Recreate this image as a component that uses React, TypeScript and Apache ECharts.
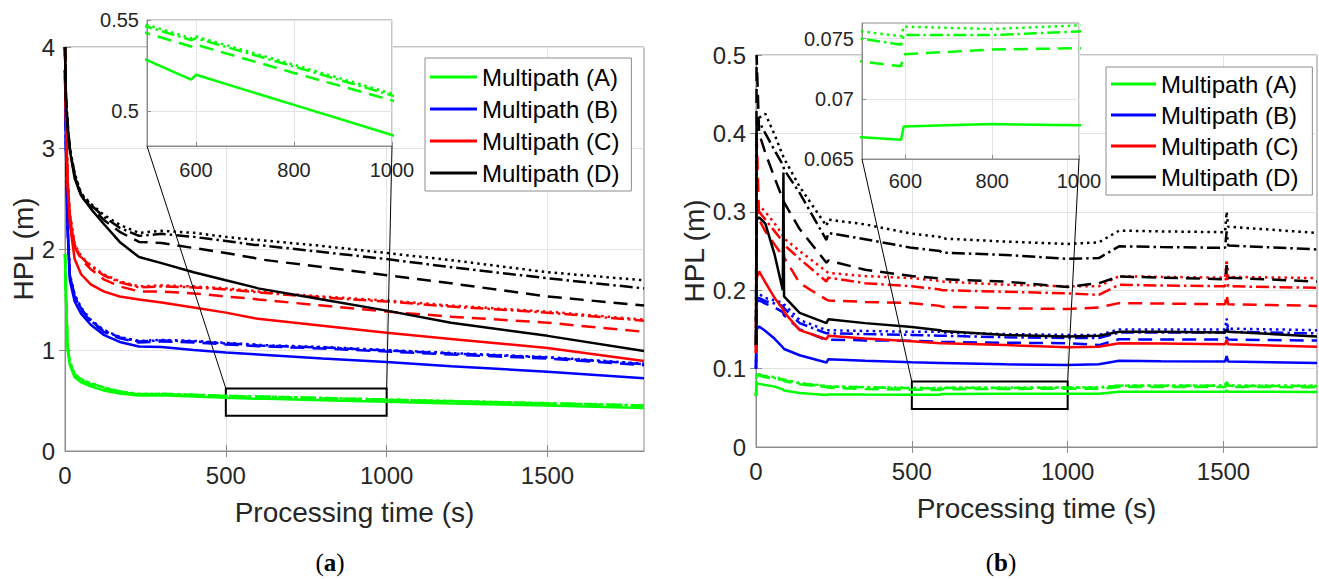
import React, { useEffect, useRef } from "react";
import * as echarts from "echarts";

// ---------------- Panel (a) data ----------------
const timeA = [0, 3, 8, 15, 30, 50, 80, 120, 170, 230, 300, 400, 500, 590, 600, 800, 1000, 1200, 1500, 1800];
const a_A_solid = [1.95, 1.5, 1.0, 0.85, 0.73, 0.68, 0.64, 0.6, 0.57, 0.55, 0.552, 0.54, 0.528, 0.5174, 0.52, 0.5035, 0.487, 0.47, 0.45, 0.425];
const a_A_dashed = [1.95, 1.55, 1.05, 0.88, 0.75, 0.7, 0.66, 0.62, 0.585, 0.56, 0.562, 0.553, 0.5427, 0.5355, 0.5365, 0.521, 0.506, 0.492, 0.47, 0.448];
const a_A_dotted = [1.95, 1.55, 1.05, 0.88, 0.76, 0.71, 0.67, 0.63, 0.59, 0.565, 0.567, 0.558, 0.5473, 0.54, 0.541, 0.5255, 0.5097, 0.495, 0.474, 0.452];
const a_A_dashdot = [1.95, 1.55, 1.05, 0.88, 0.76, 0.71, 0.67, 0.63, 0.59, 0.564, 0.566, 0.557, 0.5463, 0.539, 0.54, 0.5245, 0.5087, 0.494, 0.473, 0.451];

const a_B_solid = [3.77, 3.0, 2.2, 1.69, 1.48, 1.36, 1.25, 1.15, 1.08, 1.035, 1.03, 1.0, 0.975, 0.957, 0.955, 0.915, 0.88, 0.84, 0.785, 0.72];
const a_B_dashed = [3.77, 3.0, 2.22, 1.73, 1.53, 1.4, 1.28, 1.18, 1.115, 1.075, 1.085, 1.075, 1.055, 1.04, 1.037, 1.015, 0.985, 0.955, 0.915, 0.85];
const a_B_dotted = [3.77, 3.05, 2.25, 1.75, 1.55, 1.42, 1.3, 1.2, 1.13, 1.09, 1.1, 1.09, 1.07, 1.055, 1.05, 1.03, 1.0, 0.97, 0.93, 0.865];
const a_B_dashdot = [3.77, 3.03, 2.24, 1.74, 1.54, 1.41, 1.29, 1.19, 1.125, 1.085, 1.095, 1.085, 1.065, 1.05, 1.045, 1.025, 0.995, 0.965, 0.925, 0.86];

const a_C_solid = [4.0, 3.3, 2.6, 2.25, 1.9, 1.75, 1.65, 1.58, 1.53, 1.5, 1.47, 1.42, 1.37, 1.315, 1.31, 1.24, 1.17, 1.11, 1.02, 0.89];
const a_C_dashed = [4.0, 3.35, 2.68, 2.32, 2.02, 1.9, 1.8, 1.7, 1.63, 1.58, 1.58, 1.56, 1.53, 1.505, 1.5, 1.44, 1.38, 1.33, 1.27, 1.18];
const a_C_dotted = [4.0, 3.35, 2.7, 2.35, 2.05, 1.93, 1.84, 1.75, 1.68, 1.63, 1.64, 1.63, 1.61, 1.585, 1.58, 1.53, 1.49, 1.44, 1.38, 1.3];
const a_C_dashdot = [4.0, 3.35, 2.7, 2.34, 2.04, 1.92, 1.83, 1.74, 1.67, 1.62, 1.63, 1.62, 1.6, 1.575, 1.57, 1.52, 1.48, 1.43, 1.37, 1.29];

const a_D_solid = [4.0, 3.47, 3.2, 2.98, 2.7, 2.53, 2.4, 2.25, 2.07, 1.92, 1.86, 1.77, 1.69, 1.62, 1.61, 1.5, 1.39, 1.27, 1.14, 0.99];
const a_D_dashed = [4.0, 3.5, 3.24, 2.99, 2.72, 2.52, 2.42, 2.29, 2.17, 2.07, 2.06, 2.01, 1.96, 1.91, 1.9, 1.82, 1.74, 1.66, 1.53, 1.44];
const a_D_dotted = [4.0, 3.5, 3.25, 3.0, 2.75, 2.55, 2.45, 2.34, 2.24, 2.16, 2.18, 2.16, 2.12, 2.09, 2.09, 2.03, 1.96, 1.89, 1.77, 1.69];
const a_D_dashdot = [4.0, 3.5, 3.25, 3.0, 2.74, 2.54, 2.44, 2.32, 2.21, 2.13, 2.15, 2.12, 2.08, 2.04, 2.04, 1.97, 1.9, 1.82, 1.71, 1.61];

// ---------------- Panel (b) data ----------------
const timeB = [0, 2, 10, 30, 60, 86, 88, 90, 140, 226, 232, 350, 500, 590, 596, 800, 1000, 1100, 1165, 1300, 1505, 1510, 1515, 1800];
const b_A_solid = [0.065, 0.081, 0.0805, 0.079, 0.077, 0.0735, 0.0728, 0.072, 0.069, 0.0664, 0.067, 0.0669, 0.0668, 0.0666, 0.0677, 0.0679, 0.0678, 0.0678, 0.0705, 0.0705, 0.0705, 0.072, 0.0705, 0.0702];
const b_A_dashed = [0.065, 0.093, 0.091, 0.089, 0.087, 0.0857, 0.0856, 0.084, 0.08, 0.0765, 0.0755, 0.074, 0.0731, 0.0727, 0.0737, 0.0741, 0.0742, 0.0742, 0.0765, 0.0765, 0.0765, 0.08, 0.0765, 0.0763];
const b_A_dotted = [0.065, 0.095, 0.093, 0.091, 0.089, 0.087, 0.0868, 0.086, 0.082, 0.078, 0.0775, 0.0765, 0.0756, 0.0752, 0.076, 0.0758, 0.0761, 0.0762, 0.0785, 0.0785, 0.0785, 0.084, 0.0785, 0.0783];
const b_A_dashdot = [0.065, 0.094, 0.092, 0.09, 0.088, 0.0862, 0.086, 0.085, 0.081, 0.0775, 0.077, 0.076, 0.075, 0.0745, 0.0753, 0.0753, 0.0756, 0.0757, 0.078, 0.078, 0.078, 0.083, 0.078, 0.0778];

const b_B_solid = [0.1, 0.15, 0.1537, 0.148, 0.138, 0.127, 0.126, 0.125, 0.117, 0.1077, 0.112, 0.11, 0.108, 0.107, 0.107, 0.1055, 0.1047, 0.1055, 0.11, 0.1095, 0.109, 0.116, 0.109, 0.107];
const b_B_dashed = [0.1, 0.185, 0.187, 0.183, 0.178, 0.172, 0.17, 0.168, 0.15, 0.1366, 0.137, 0.136, 0.1354, 0.1345, 0.134, 0.133, 0.1324, 0.13, 0.1375, 0.137, 0.137, 0.14, 0.137, 0.1358];
const b_B_dotted = [0.1, 0.195, 0.195, 0.19, 0.187, 0.184, 0.1835, 0.182, 0.162, 0.149, 0.149, 0.148, 0.147, 0.147, 0.146, 0.144, 0.143, 0.143, 0.15, 0.15, 0.15, 0.164, 0.151, 0.149];
const b_B_dashdot = [0.1, 0.19, 0.19, 0.186, 0.183, 0.18, 0.179, 0.177, 0.158, 0.145, 0.145, 0.144, 0.143, 0.142, 0.142, 0.14, 0.139, 0.139, 0.146, 0.146, 0.146, 0.158, 0.147, 0.145];

const b_C_solid = [0.12, 0.215, 0.224, 0.21, 0.19, 0.176, 0.175, 0.172, 0.149, 0.1375, 0.1418, 0.1385, 0.135, 0.1324, 0.1322, 0.13, 0.1273, 0.128, 0.1324, 0.132, 0.131, 0.137, 0.131, 0.128];
const b_C_dashed = [0.12, 0.4, 0.29, 0.275, 0.258, 0.244, 0.265, 0.242, 0.209, 0.188, 0.187, 0.185, 0.1835, 0.18, 0.179, 0.177, 0.176, 0.178, 0.1835, 0.183, 0.182, 0.195, 0.182, 0.18];
const b_C_dotted = [0.12, 0.31, 0.308, 0.3, 0.285, 0.27, 0.268, 0.266, 0.25, 0.224, 0.222, 0.218, 0.2155, 0.212, 0.211, 0.207, 0.205, 0.205, 0.218, 0.217, 0.216, 0.239, 0.217, 0.2155];
const b_C_dashdot = [0.12, 0.3, 0.3, 0.29, 0.275, 0.262, 0.26, 0.258, 0.24, 0.211, 0.216, 0.209, 0.205, 0.201, 0.2, 0.198, 0.196, 0.194, 0.207, 0.206, 0.205, 0.225, 0.205, 0.203];

const b_D_solid = [0.13, 0.29, 0.293, 0.285, 0.245, 0.2, 0.35, 0.192, 0.171, 0.158, 0.163, 0.158, 0.153, 0.149, 0.148, 0.143, 0.141, 0.142, 0.147, 0.147, 0.146, 0.15, 0.147, 0.141];
const b_D_dashed = [0.13, 0.5, 0.4, 0.375, 0.343, 0.316, 0.314, 0.312, 0.278, 0.235, 0.238, 0.226, 0.218, 0.215, 0.214, 0.211, 0.204, 0.209, 0.2175, 0.216, 0.214, 0.232, 0.216, 0.211];
const b_D_dotted = [0.13, 0.4, 0.42, 0.425, 0.398, 0.372, 0.37, 0.368, 0.332, 0.282, 0.29, 0.284, 0.272, 0.268, 0.266, 0.262, 0.259, 0.261, 0.276, 0.275, 0.274, 0.3, 0.281, 0.273];
const b_D_dashdot = [0.13, 0.41, 0.415, 0.4, 0.378, 0.36, 0.358, 0.354, 0.324, 0.264, 0.273, 0.265, 0.254, 0.25, 0.248, 0.245, 0.24, 0.241, 0.256, 0.255, 0.254, 0.275, 0.257, 0.252];

// ---------------- axes / annotations ----------------
const legendNames = ["Multipath (A)", "Multipath (B)", "Multipath (C)", "Multipath (D)"];
const xTicksMain = [0, 500, 1000, 1500];
const xTicksTop = [500, 1000, 1500];
const yTicksA = [0, 1, 2, 3, 4];
const yTicksB = [0, 0.1, 0.2, 0.3, 0.4, 0.5];
const xTicksInset = [600, 800, 1000];
const yTicksInsetA = [0.5, 0.55];
const yTicksInsetB = [0.065, 0.07, 0.075];
const rangeMainX = [0, 1800];
const rangeMainYA = [0, 4];
const rangeMainYB = [0, 0.5];
const insetA = [500, 1000, 0.481, 0.55];
const insetB = [500, 1000, 0.065, 0.0763];
const zoomBoxA = [500, 1000, 0.35, 0.62];
const zoomBoxB = [500, 1000, 0.0485, 0.0834];

const FONT = '"Liberation Sans", Arial, Helvetica, sans-serif';
const SERIF = '"Liberation Serif", "Times New Roman", serif';
const TXT = "#262626";
const AX = "#8c8c8c";
const GRIDC = "#e3e3e3";
const COLOR: Record<string, string> = { A: "#00ff00", B: "#0000ff", C: "#ff0000", D: "#000000" };
const DASH: Record<string, any> = { solid: "solid", dashed: [14, 8], dotted: [2.5, 4], dashdot: [13, 4, 2.5, 4] };
const fmt = (v: number) => String(Number(v.toFixed(4)));

const tableA: [string, string, number[]][] = [
  ["A", "dashed", a_A_dashed], ["A", "dotted", a_A_dotted], ["A", "dashdot", a_A_dashdot], ["A", "solid", a_A_solid],
  ["B", "dashed", a_B_dashed], ["B", "dotted", a_B_dotted], ["B", "dashdot", a_B_dashdot], ["B", "solid", a_B_solid],
  ["C", "dashed", a_C_dashed], ["C", "dotted", a_C_dotted], ["C", "dashdot", a_C_dashdot], ["C", "solid", a_C_solid],
  ["D", "dashed", a_D_dashed], ["D", "dotted", a_D_dotted], ["D", "dashdot", a_D_dashdot], ["D", "solid", a_D_solid],
];
const tableB: [string, string, number[]][] = [
  ["A", "dashed", b_A_dashed], ["A", "dotted", b_A_dotted], ["A", "dashdot", b_A_dashdot], ["A", "solid", b_A_solid],
  ["B", "dashed", b_B_dashed], ["B", "dotted", b_B_dotted], ["B", "dashdot", b_B_dashdot], ["B", "solid", b_B_solid],
  ["C", "dashed", b_C_dashed], ["C", "dotted", b_C_dotted], ["C", "dashdot", b_C_dashdot], ["C", "solid", b_C_solid],
  ["D", "dashed", b_D_dashed], ["D", "dotted", b_D_dotted], ["D", "dashdot", b_D_dashdot], ["D", "solid", b_D_solid],
];

function mkLine(key: string, style: string, t: number[], v: number[], xi: number, yi: number, z: number, tag: string) {
  const color = COLOR[key];
  return {
    type: "line",
    name: style === "solid" && tag.indexOf("main") === 0 ? `Multipath (${key})` : `${key}-${style}-${tag}`,
    xAxisIndex: xi,
    yAxisIndex: yi,
    data: t.map((x, i) => [x, v[i]]),
    showSymbol: false,
    symbol: "none",
    silent: true,
    z,
    clip: true,
    lineStyle: { color, width: 2.5, type: DASH[style] },
    itemStyle: { color },
    emphasis: { disabled: true },
  };
}

function mainX(gridIndex: number) {
  return {
    gridIndex, type: "value", min: rangeMainX[0], max: rangeMainX[1], interval: 500,
    axisLine: { show: true, onZero: false, lineStyle: { color: AX } },
    axisTick: { show: true, inside: true, length: 6, customValues: xTicksMain, lineStyle: { color: AX } },
    axisLabel: { customValues: xTicksMain, formatter: fmt, color: TXT, fontSize: 24, fontFamily: FONT, margin: 12 },
    splitLine: { show: true, lineStyle: { color: GRIDC } },
    name: "Processing time (s)",
    nameLocation: "middle", nameGap: 47,
    nameTextStyle: { fontSize: 28, color: TXT, fontFamily: FONT },
  };
}
function topX(gridIndex: number) {
  return {
    gridIndex, type: "value", position: "top", min: rangeMainX[0], max: rangeMainX[1], interval: 500,
    axisLine: { show: false },
    axisTick: { show: true, inside: true, length: 6, customValues: xTicksTop, lineStyle: { color: AX } },
    axisLabel: { show: false }, splitLine: { show: false },
  };
}
function mainY(gridIndex: number, range: number[], ticks: number[], interval: number, gap: number) {
  return {
    gridIndex, type: "value", min: range[0], max: range[1], interval,
    axisLine: { show: true, onZero: false, lineStyle: { color: AX } },
    axisTick: { show: true, inside: true, length: 6, customValues: ticks, lineStyle: { color: AX } },
    axisLabel: { customValues: ticks, formatter: fmt, color: TXT, fontSize: 24, fontFamily: FONT, margin: 10 },
    splitLine: { show: true, lineStyle: { color: GRIDC } },
    name: "HPL (m)", nameLocation: "middle", nameGap: gap,
    nameTextStyle: { fontSize: 28, color: TXT, fontFamily: FONT },
  };
}
function rightY(gridIndex: number, range: number[], ticks: number[], interval: number) {
  return {
    gridIndex, type: "value", position: "right", min: range[0], max: range[1], interval,
    axisLine: { show: false },
    axisTick: { show: true, inside: true, length: 6, customValues: ticks.slice(1, ticks.length - 1), lineStyle: { color: AX } },
    axisLabel: { show: false }, splitLine: { show: false },
  };
}
function insetX(gridIndex: number, r: number[], margin: number) {
  return {
    gridIndex, type: "value", min: r[0], max: r[1], z: 11,
    axisLine: { show: true, onZero: false, lineStyle: { color: AX } },
    axisTick: { show: true, inside: true, length: 4, customValues: xTicksInset, lineStyle: { color: AX } },
    axisLabel: { customValues: xTicksInset, formatter: fmt, color: TXT, fontSize: 20, fontFamily: FONT, margin },
    splitLine: { show: true, lineStyle: { color: GRIDC } },
  };
}
function insetY(gridIndex: number, r: number[], ticks: number[]) {
  return {
    gridIndex, type: "value", min: r[2], max: r[3], z: 11,
    axisLine: { show: true, onZero: false, lineStyle: { color: AX } },
    axisTick: { show: true, inside: true, length: 4, customValues: ticks, lineStyle: { color: AX } },
    axisLabel: { customValues: ticks, formatter: fmt, color: TXT, fontSize: 20, fontFamily: FONT, margin: 8 },
    splitLine: { show: true, lineStyle: { color: GRIDC } },
  };
}
function legendAt(left: number, top: number, gap: number, iw: number, pad: number[]) {
  return {
    data: legendNames, left, top, orient: "vertical", icon: "rect",
    itemWidth: iw, itemHeight: 3, itemGap: gap, padding: pad,
    backgroundColor: "#fff", borderColor: AX, borderWidth: 1, borderRadius: 0,
    selectedMode: false, z: 20,
    textStyle: { fontSize: 24, lineHeight: 24, color: "#000", fontFamily: FONT },
  };
}

export default function App() {
  const ref = useRef<HTMLDivElement>(null);
  useEffect(() => {
    if (!ref.current) return;
    const chart = echarts.init(ref.current, undefined, { renderer: "svg" });

    const series: any[] = [];
    tableA.forEach(([k, s, v]) => series.push(mkLine(k, s, timeA, v, 0, 0, 2, "mainA")));
    tableB.forEach(([k, s, v]) => series.push(mkLine(k, s, timeB, v, 3, 3, 2, "mainB")));
    tableA.filter((r) => r[0] === "A").forEach(([k, s, v]) => series.push(mkLine(k, s, timeA, v, 2, 2, 12, "insetA")));
    tableB.filter((r) => r[0] === "A").forEach(([k, s, v]) => series.push(mkLine(k, s, timeB, v, 5, 5, 12, "insetB")));

    const boxStyle = { color: "rgba(0,0,0,0)", borderColor: "#000", borderWidth: 2 };
    series.push({
      type: "line", name: "zoomA", xAxisIndex: 0, yAxisIndex: 0, data: [], silent: true, z: 5,
      markArea: { silent: true, itemStyle: boxStyle, data: [[{ coord: [zoomBoxA[0], zoomBoxA[3]] }, { coord: [zoomBoxA[1], zoomBoxA[2]] }]] },
    });
    series.push({
      type: "line", name: "zoomB", xAxisIndex: 3, yAxisIndex: 3, data: [], silent: true, z: 5,
      markArea: { silent: true, itemStyle: boxStyle, data: [[{ coord: [zoomBoxB[0], zoomBoxB[3]] }, { coord: [zoomBoxB[1], zoomBoxB[2]] }]] },
    });

    const option: any = {
      animation: false,
      textStyle: { fontFamily: FONT },
      grid: [
        { left: 65, top: 47, width: 579, height: 404, show: true, borderColor: AX, borderWidth: 1, backgroundColor: "transparent" },
        { left: 147, top: 20, width: 245, height: 126, show: true, borderColor: AX, borderWidth: 1, backgroundColor: "#fff", z: 10 },
        { left: 756, top: 55, width: 561, height: 392, show: true, borderColor: AX, borderWidth: 1, backgroundColor: "transparent" },
        { left: 862, top: 23, width: 217, height: 136, show: true, borderColor: AX, borderWidth: 1, backgroundColor: "#fff", z: 10 },
      ],
      xAxis: [mainX(0), topX(0), insetX(1, insetA, 14), mainX(2), topX(2), insetX(3, insetB, 12)],
      yAxis: [
        mainY(0, rangeMainYA, yTicksA, 1, 27),
        rightY(0, rangeMainYA, yTicksA, 1),
        insetY(1, insetA, yTicksInsetA),
        mainY(2, rangeMainYB, yTicksB, 0.1, 48),
        rightY(2, rangeMainYB, yTicksB, 0.1),
        insetY(3, insetB, yTicksInsetB),
      ],
      legend: [legendAt(425, 58, 8, 47, [7, 12, 6, 5]), legendAt(1106, 67, 7, 45, [5, 14, 6, 5])],
      series,
    };
    chart.setOption(option);

    const px = (xi: number, p: number[]) => chart.convertToPixel({ xAxisIndex: xi, yAxisIndex: xi } as any, p) as number[];
    const conn = (a: number[], b: number[], id: string) => ({
      type: "line", id, z: 30, silent: true,
      shape: { x1: a[0], y1: a[1], x2: b[0], y2: b[1] },
      style: { stroke: "#000", lineWidth: 1 },
    });
    const aBL = px(2, [insetA[0], insetA[2]]);
    const aBR = px(2, [insetA[1], insetA[2]]);
    const aTL = px(0, [zoomBoxA[0], zoomBoxA[3]]);
    const aTR = px(0, [zoomBoxA[1], zoomBoxA[3]]);
    const bBL = px(5, [insetB[0], insetB[2]]);
    const bBR = px(5, [insetB[1], insetB[2]]);
    const bTL = px(3, [zoomBoxB[0], zoomBoxB[3]]);
    const bTR = px(3, [zoomBoxB[1], zoomBoxB[3]]);
    const caption = (id: string, letter: string, x: number, y: number) => ({
      type: "text", id, x, y, z: 30, silent: true,
      style: {
        text: `{n|(}{b|${letter}}{n|)}`,
        align: "center", verticalAlign: "middle",
        rich: {
          n: { fontFamily: SERIF, fontSize: 25, fill: "#000" },
          b: { fontFamily: SERIF, fontSize: 25, fontWeight: "bold", fill: "#000" },
        },
      },
    });
    chart.setOption({
      graphic: [
        conn(aBL, aTL, "ca1"), conn(aBR, aTR, "ca2"),
        conn(bBL, bTL, "cb1"), conn(bBR, bTR, "cb2"),
        caption("capA", "a", 330, 562), caption("capB", "b", 1001, 562),
      ],
    });

    return () => chart.dispose();
  }, []);
  return (
    <div
      ref={ref}
      style={{ position: "fixed", left: 0, top: 0, width: 1319, height: 579, background: "#fff" }}
    />
  );
}
